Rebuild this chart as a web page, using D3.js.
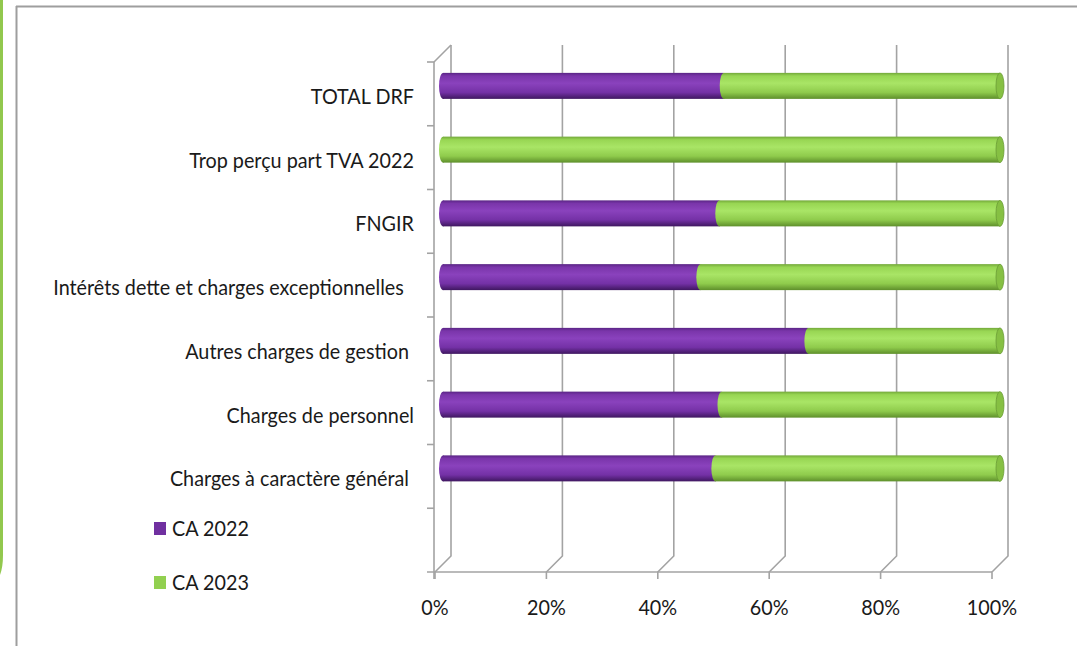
<!DOCTYPE html>
<html>
<head>
<meta charset="utf-8">
<script src="https://cdn.jsdelivr.net/npm/d3@7"></script>
<style>
  body { margin: 0; background: #fff; }
  text { font-family: Lato, "Liberation Sans", sans-serif; fill: #1a1a1a; white-space: pre; }
</style>
</head>
<body>
<script>
// categories, top to bottom (last one is the empty band under the bars)
const categories = [
  "TOTAL DRF",
  "Trop perçu part TVA 2022",
  "FNGIR",
  "Intérêts dette et charges exceptionnelles  ",
  "Autres charges de gestion ",
  "Charges de personnel",
  "Charges à caractère général ",
  ""
];
// share of each year, in %
const ca2022 = [50.4, 0, 49.6, 46.2, 65.6, 50.0, 48.9];
const ca2023 = [49.6, 100, 50.4, 53.8, 34.4, 50.0, 51.1];
const seriesNames = ["CA 2022", "CA 2023"];
const ticks = [0, 0.2, 0.4, 0.6, 0.8, 1];

const W = 1077, H = 646;
const svg = d3.select("body").append("svg")
  .attr("width", W)
  .attr("height", H);

const x = d3.scaleLinear().domain([0, 1]).range([435, 992]);
const y = d3.scaleBand().domain(categories).range([62, 572]);
const depth = 16;       // 3d offset of the back wall
const barH = 26;
const gridColor = "#a3a3a3";
const fs = 22;

// frame
svg.append("line").attr("x1", 16.5).attr("x2", 16.5).attr("y1", 6).attr("y2", H)
  .attr("stroke", "#9e9e9e").attr("stroke-width", 2);
svg.append("line").attr("x1", 16).attr("x2", W).attr("y1", 6.5).attr("y2", 6.5)
  .attr("stroke", "#9e9e9e").attr("stroke-width", 2);
svg.append("path").attr("d", "M1.5,0 L1.5,555 Q1.5,568 -2,576")
  .attr("fill", "none").attr("stroke", "#92c84e").attr("stroke-width", 3);

// gradients for cylinders
const defs = svg.append("defs");
function grad(id, stops) {
  const g = defs.append("linearGradient").attr("id", id)
    .attr("x1", 0).attr("y1", 0).attr("x2", 0).attr("y2", 1);
  stops.forEach(s => g.append("stop").attr("offset", s[0]).attr("stop-color", s[1]));
}
grad("gPurple", [[0, "#5a2585"], [0.12, "#7a35aa"], [0.4, "#8a42bd"], [0.75, "#7431a6"], [1, "#3f1760"]]);
grad("gGreen", [[0, "#73a83a"], [0.12, "#98d653"], [0.4, "#a9e566"], [0.75, "#8fcb4c"], [1, "#5e8f2b"]]);
const fills = ["url(#gPurple)", "url(#gGreen)"];

// grid on back wall + floor diagonals
const grid = svg.append("g").attr("stroke", gridColor).attr("stroke-width", 1.6).attr("fill", "none");
ticks.forEach(t => {
  grid.append("path")
    .attr("d", `M${x(t) + depth},45 L${x(t) + depth},556 L${x(t)},572 L${x(t)},579`);
});
// floor front edge
grid.append("line").attr("x1", 427).attr("x2", x(1)).attr("y1", 572).attr("y2", 572);
// left axis (front) + top diagonal
grid.append("path").attr("d", `M${x(0) - 1},62 L${x(0) - 1},579`);
grid.append("path").attr("d", `M${x(0) - 1},62 L${x(0) + depth},45`);
categories.forEach(c => {
  grid.append("line").attr("x1", 427).attr("x2", x(0) - 1)
    .attr("y1", y(c)).attr("y2", y(c));
});

// bars (cylinders at half depth)
const rows = categories.slice(0, 7).map((c, i) => ({ c, v: [ca2022[i] / 100, ca2023[i] / 100] }));
const bars = svg.append("g");
rows.forEach(r => {
  const cy = y(r.c) + y.bandwidth() / 2 - depth / 2;
  let start = 0;
  const g = bars.append("g");
  r.v.forEach((v, k) => {
    if (v <= 0) return;
    const x0 = x(start) + depth / 2, x1 = x(start + v) + depth / 2;
    g.append("ellipse").attr("cx", x0).attr("cy", cy).attr("rx", 4).attr("ry", barH / 2)
      .attr("fill", fills[k]);
    g.append("rect").attr("x", x0).attr("y", cy - barH / 2)
      .attr("width", x1 - x0).attr("height", barH).attr("fill", fills[k]);
    start += v;
  });
  // end cap
  const xe = x(start) + depth / 2;
  g.append("ellipse").attr("cx", xe).attr("cy", cy).attr("rx", 4).attr("ry", barH / 2)
    .attr("fill", "#86c043").attr("stroke", "#6a9c35").attr("stroke-width", 0.8);
});

// narrow text: squeeze horizontally around its anchor
function narrow(sel, k) {
  sel.each(function () {
    const t = d3.select(this);
    const tx = +t.attr("x"), ty = +t.attr("y");
    t.attr("transform", `translate(${tx},${ty}) scale(${k},1) translate(${-tx},${-ty})`);
  });
}

// category labels
const labels = svg.append("g").selectAll("text").data(categories.slice(0, 7)).join("text")
  .attr("x", 414)
  .attr("y", d => y(d) + y.bandwidth() / 2 + 10)
  .attr("text-anchor", "end")
  .attr("font-size", fs)
  .text(d => d);
// "Trop perçu part TVA 2022" spans about 225px in the original
const ref = labels.filter(d => d.startsWith("Trop")).node().getComputedTextLength();
const k = 225 / ref;
narrow(labels, k);

// x tick labels
const tl = svg.append("g").selectAll("text").data(ticks).join("text")
  .attr("x", d => x(d))
  .attr("y", 615)
  .attr("text-anchor", "middle")
  .attr("font-size", fs)
  .text(d3.format(".0%"));
narrow(tl, k);

// legend
const legColors = ["#7030a0", "#92d050"];
const leg = svg.append("g");
seriesNames.forEach((s, i) => {
  const ly = 528 + i * 54;
  leg.append("rect").attr("x", 154).attr("y", ly - 6).attr("width", 12).attr("height", 13)
    .attr("fill", legColors[i]);
  narrow(leg.append("text").attr("x", 172).attr("y", ly + 8).attr("font-size", fs).text(s), k);
});
</script>
</body>
</html>
